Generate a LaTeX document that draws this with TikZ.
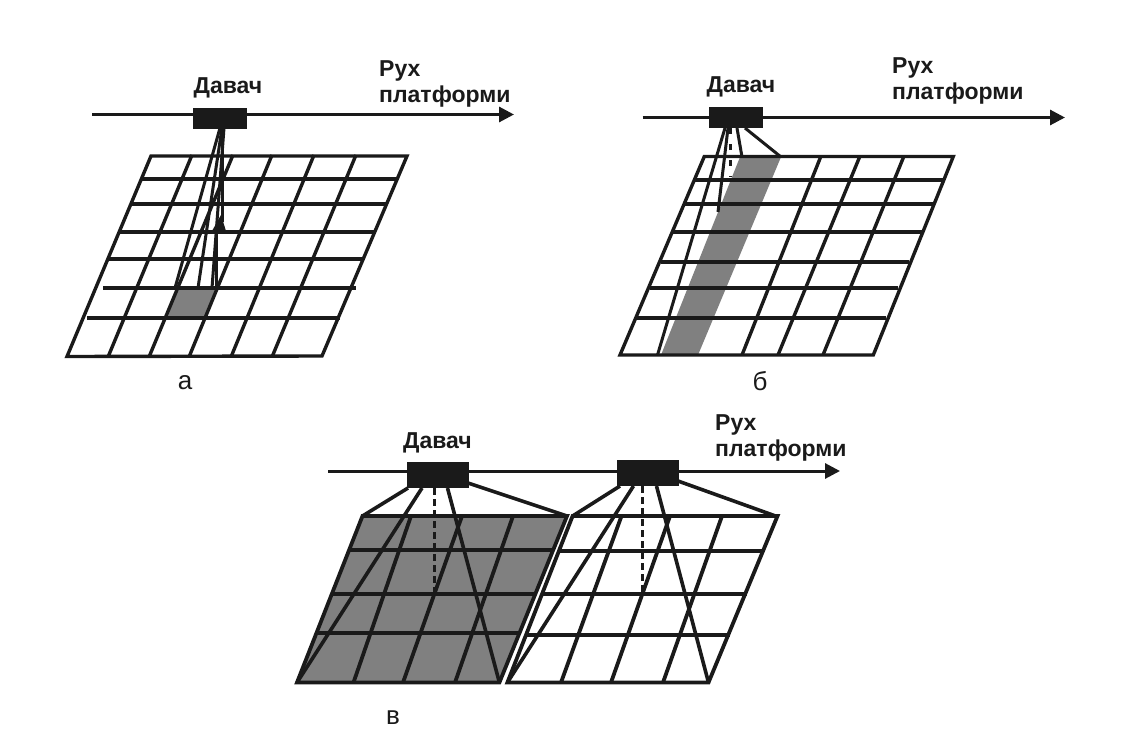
\documentclass[tikz,border=0pt]{standalone}
\usepackage{fontspec}
\setmainfont{Liberation Sans}
\usetikzlibrary{arrows.meta}
\definecolor{halftone}{HTML}{808080}
\definecolor{ink}{HTML}{1A1A1A}
\tikzset{
  ln/.style={draw=ink,line width=3.4pt,line cap=butt},
  lnc/.style={draw=ink,line width=3.8pt,line cap=butt},
  beam/.style={draw=ink,line width=3pt},
  beamc/.style={draw=ink,line width=3.6pt},
  dashbeam/.style={draw=ink,line width=3pt,dash pattern=on 7pt off 4pt},
  sensor/.style={fill=ink,draw=none,inner sep=0pt,minimum width=#1},
  axis/.style={draw=ink,line width=3pt,-{Triangle[length=15pt,width=15pt]}},
  lbl/.style={font=\bfseries\fontsize{23}{26}\selectfont,text=ink,inner sep=0pt,align=left},
  subcap/.style={font=\fontsize{26}{28}\selectfont,text=ink,inner sep=0pt}
}
\begin{document}
\begin{tikzpicture}[x=1pt,y=-1pt]
\fill[white] (0,0) rectangle (1136,755);
\useasboundingbox (0,0) rectangle (1136,755);

% --- panel a ---
\fill[halftone] (177,288) -- (217,288) -- (205,318) -- (167,318) -- cycle;
\foreach \xa/\y/\xb in {141/179/397, 131/204/387, 119/232/375, 108/259/363, 103/288/356, 87/318/340}
  \draw[ln] (\xa,\y) -- (\xb,\y);
\foreach \xa/\xb in {192/108, 233/149, 272/189, 314/231, 356/272}
  \draw[ln] (\xa,155) -- (\xb,357);
\draw[ln,line join=miter] (151,156) -- (407,156) -- (322,356) -- (67,356.5) -- cycle;
\coordinate (a1) at (220,128);
\coordinate (a2) at (222,128);
\coordinate (a3) at (224,128);
\draw[beam] (a1) -- (175,288);
\draw[beam] (a2) -- (198,288);
\draw[beam] (a3) -- (212,288);
\draw[beam] (a2) -- (222,222);
\draw[beam] (216,228) -- (216,288);
\fill[ink] (221,215) -- (212,231) -- (226,231) -- cycle;
\coordinate (ap) at (92,114.5);
\coordinate (aq) at (514,114.5);
\draw[axis] (ap) -- (aq);
\node[sensor=54pt,minimum height=21pt] (sa) at (220,118.5) {};
\node[lbl,anchor=base] (ta) at (228,93) {Давач};
\node[lbl,anchor=north west] (ra) at (379,60) {Рух\\платформи};
\node[subcap,anchor=base] (ca) at (185,389) {а};

% --- panel b ---
\fill[halftone] (740,157) -- (781,157) -- (698,355) -- (661,355) -- cycle;
\foreach \xa/\y/\xb in {694.5/180/943.5, 685/204/933, 673/232/921.5, 661/262/909, 650/288/898, 637/318/886}
  \draw[ln] (\xa,\y) -- (\xb,\y);
\foreach \xa/\xb in {821/742, 860/778, 904/823}
  \draw[ln] (\xa,156) -- (\xb,355);
\draw[ln,line join=miter] (704.3,156.5) -- (953.3,156.5) -- (873.3,355) -- (620,355) -- cycle;
\coordinate (b1) at (725,128);
\coordinate (b2) at (728,128);
\coordinate (b3) at (730,128);
\coordinate (b4) at (737,128);
\coordinate (b5) at (745,128);
\draw[beam] (b1) -- (657.5,355);
\draw[beam] (b2) -- (718,212);
\draw[dashbeam,dash pattern=on 6pt off 10pt] (b3) -- (730,177);
\draw[beam] (b4) -- (742,157);
\draw[beam] (b5) -- (781,157);
\coordinate (bp) at (642.7,117.5);
\coordinate (bq) at (1065,117.5);
\draw[axis] (bp) -- (bq);
\node[sensor=54pt,minimum height=21pt] (sb) at (735.5,117.5) {};
\node[lbl,anchor=base] (tb) at (741,92) {Давач};
\node[lbl,anchor=north west] (rb) at (892,57) {Рух\\платформи};
\node[subcap,anchor=base] (cb) at (760,390) {б};

% --- panel c ---
\fill[halftone] (362.5,516) -- (567,516) -- (499.4,682.5) -- (297,682.5) -- cycle;
\foreach \xa/\y/\xb in {349/550/553, 331/594/536, 316/633/520}
  \draw[lnc] (\xa,\y) -- (\xb,\y);
\foreach \xa/\xb in {411/353.5, 462/403, 513/455}
  \draw[lnc] (\xa,516) -- (\xb,682.5);
\draw[lnc,line join=miter] (362.5,516) -- (567,516) -- (499.4,682.5) -- (297,682.5) -- cycle;
\foreach \y/\xa/\xb in {551/558/764, 594/541/747, 635/525/730}
  \draw[lnc] (\xa,\y) -- (\xb,\y);
\foreach \xa/\xb in {621.5/561, 670/611, 722/663}
  \draw[lnc] (\xa,516) -- (\xb,682.5);
\draw[lnc,line join=miter] (572.6,516) -- (777.5,516) -- (708.5,682.5) -- (507.4,682.5) -- cycle;

\coordinate (c1) at (408,488);
\coordinate (c2) at (422,488);
\coordinate (c3) at (434,488);
\coordinate (c4) at (447.5,488);
\coordinate (c5) at (468,483);
\draw[beamc] (c1) -- (362.5,516);
\draw[beamc] (c2) -- (297,682.5);
\draw[dashbeam] (c3) -- (434,594);
\draw[beamc] (c4) -- (499.4,682.5);
\draw[beamc] (c5) -- (567,516);
\coordinate (d1) at (620,486);
\coordinate (d2) at (633.5,486);
\coordinate (d3) at (642.5,486);
\coordinate (d4) at (656.5,486);
\coordinate (d5) at (678,481);
\draw[beamc] (d1) -- (572.6,516);
\draw[beamc] (d2) -- (507.4,682.5);
\draw[dashbeam] (d3) -- (642.5,594);
\draw[beamc] (d4) -- (708.5,682.5);
\draw[beamc] (d5) -- (775.5,516);
\coordinate (cp) at (328,471);
\coordinate (cq) at (840,471);
\draw[axis] (cp) -- (cq);
\node[sensor=62pt,minimum height=26pt] (sc) at (437.5,475) {};
\node[sensor=62pt,minimum height=26pt] (sd) at (648,473) {};
\node[lbl,anchor=base] (tc) at (437.5,448) {Давач};
\node[lbl,anchor=north west] (rc) at (715,414) {Рух\\платформи};
\node[subcap,anchor=base] (cc) at (393,724) {в};
\end{tikzpicture}
\end{document}
